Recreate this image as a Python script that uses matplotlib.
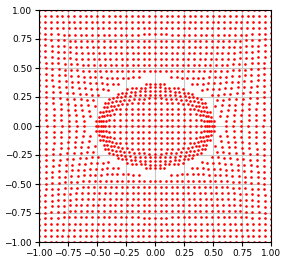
import numpy as np
import matplotlib
matplotlib.use("Agg")
import matplotlib.pyplot as plt

# regular grid of sample points (41 x 41 over [-1, 1])
grid_ticks = np.linspace(-1.0, 1.0, 41)

# semi-axes (x, y) of the ellipses that define the deformation
inner_identity = [0.42, 0.22]   # inside: unchanged
ring_outer = [0.51, 0.37]       # compressed band ends here
source_outer = [0.66, 0.46]     # original band edge that is squeezed
outer_start = [0.56, 0.43]      # where the outer region restarts

tick_vals = [-1.00, -0.75, -0.50, -0.25, 0.00, 0.25, 0.50, 0.75, 1.00]
tick_labels = ["\u22121.00", "\u22120.75", "\u22120.50", "\u22120.25", "0.00",
               "0.25", "0.50", "0.75", "1.00"]


def ell_r(ab, c, s):
    return 1.0 / np.sqrt((c / ab[0]) ** 2 + (s / ab[1]) ** 2)


X, Y = np.meshgrid(grid_ticks, grid_ticks)
X = X.ravel()
Y = Y.ravel()
r = np.hypot(X, Y)
th = np.arctan2(Y, X)
c, s = np.cos(th), np.sin(th)
R1 = ell_r(inner_identity, c, s)
Rc = ell_r(ring_outer, c, s)
R2 = ell_r(source_outer, c, s)
R3 = ell_r(outer_start, c, s)
Rb = 1.0 / np.maximum(np.abs(c), np.abs(s))

rn = r.copy()
m1 = (r >= R1) & (r < R2)
rn[m1] = R1[m1] + (r[m1] - R1[m1]) * (Rc[m1] - R1[m1]) / (R2[m1] - R1[m1])
m2 = r >= R2
rn[m2] = R3[m2] + (r[m2] - R2[m2]) * (Rb[m2] - R3[m2]) / (Rb[m2] - R2[m2])
Xn = rn * c
Yn = rn * s

fig = plt.figure(figsize=(2.87, 2.63), dpi=100)
ax = fig.add_axes([39 / 287, 21 / 263, 232 / 287, 232 / 263])
ax.plot(Xn, Yn, 'o', color='red', markersize=1.9, markeredgewidth=0,
        linestyle='none')
ax.set_xlim(-1, 1)
ax.set_ylim(-1, 1)
ax.set_xticks(tick_vals)
ax.set_xticklabels(tick_labels)
ax.set_yticks(tick_vals)
ax.set_yticklabels(tick_labels)
ax.tick_params(labelsize=6.5, length=3, width=0.8, pad=2)
ax.grid(True, color="#c8c8c8", linewidth=0.8)
ax.set_axisbelow(True)
fig.savefig("out.png", dpi=100)
